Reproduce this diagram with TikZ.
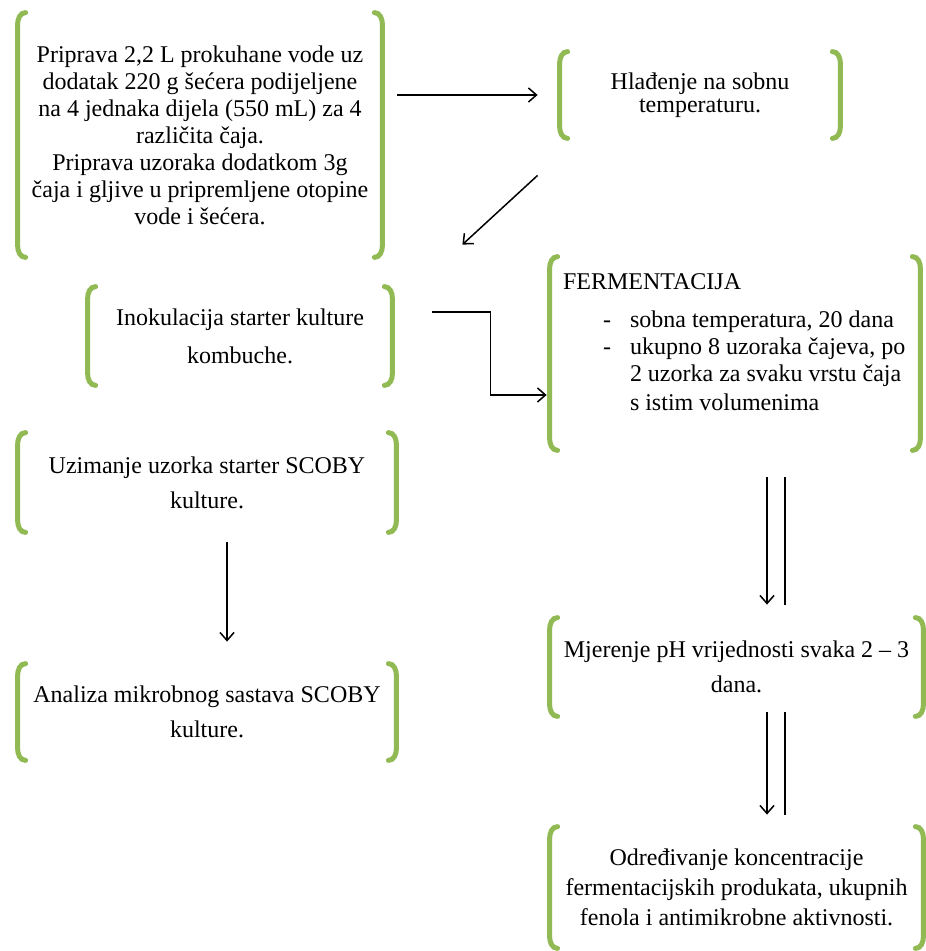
\documentclass[tikz,border=0pt]{standalone}
\usepackage{fontspec}
\setmainfont{Liberation Serif}
\usetikzlibrary{arrows.meta}
\definecolor{brgreen}{RGB}{146,186,84}
\tikzset{
  brbox/.style={inner sep=0pt, align=center, font=\fontsize{12}{17.5}\selectfont},
  brk/.style={draw=brgreen, line width=2.5pt, line cap=round},
  arr/.style={draw, line width=0.75pt, -{Straight Barb[length=4pt,width=7pt]}},
  twin/.style={draw, line width=0.75pt}
}
\begin{document}
\begin{tikzpicture}[x=0.5pt,y=-0.5pt]
\useasboundingbox (0,0) rectangle (925,951);

% left column
\node[brbox, minimum width=182pt, minimum height=122pt, font=\fontsize{12}{13.5}\selectfont] (prep) at (200,135)
  {Priprava 2,2 L prokuhane vode uz\\ dodatak 220 g šećera podijeljene\\ na 4 jednaka dijela (550 mL) za 4\\ različita čaja.\\ Priprava uzoraka dodatkom 3g\\ čaja i gljive u pripremljene otopine\\ vode i šećera.};
\node[brbox, minimum width=152pt, minimum height=49pt, font=\fontsize{12}{19}\selectfont] (inoc) at (240,336)
  {Inokulacija starter kulture\\ kombuche.};
\node[brbox, minimum width=189pt, minimum height=49.5pt] (take) at (207,482.5)
  {Uzimanje uzorka starter SCOBY\\ kulture.};
\node[brbox, minimum width=189pt, minimum height=48pt] (anal) at (207,712)
  {Analiza mikrobnog sastava SCOBY\\ kulture.};

% right column
\node[brbox, minimum width=140pt, minimum height=43pt, font=\fontsize{12}{11.5}\selectfont] (cool) at (700,95)
  {Hlađenje na sobnu\\ temperaturu.};
\node[brbox, minimum width=185pt, minimum height=96.5pt] (ferm) at (735,353.5) {};
\node[anchor=north west, inner sep=0pt, align=left, font=\fontsize{12}{13.5}\selectfont] (fermtxt)
  at ([xshift=6.5pt,yshift=-8.5pt]ferm.north west)
  {FERMENTACIJA\\[5.5pt]
   \hspace*{20pt}\makebox[13.5pt][l]{-}sobna temperatura, 20 dana\\
   \hspace*{20pt}\makebox[13.5pt][l]{-}ukupno 8 uzoraka čajeva, po\\
   \hspace*{33.5pt}2 uzorka za svaku vrstu čaja\\[1pt]
   \hspace*{33.5pt}s istim volumenima};
\node[brbox, minimum width=186.5pt, minimum height=49pt] (meas) at (736.5,667)
  {Mjerenje pH vrijednosti svaka 2 – 3\\ dana.};
\node[brbox, minimum width=186.5pt, minimum height=60.5pt, font=\fontsize{12}{15}\selectfont] (det) at (736.5,887.5)
  {Određivanje koncentracije\\ fermentacijskih produkata, ukupnih\\ fenola i antimikrobne aktivnosti.};

% green brackets round every box
\foreach \n in {prep,cool,inoc,ferm,take,anal,meas,det}{
  \draw[brk] ([xshift=4pt]\n.north west) to[out=180,in=90] ([yshift=-6pt]\n.north west)
    -- ([yshift=6pt]\n.south west) to[out=-90,in=180] ([xshift=4pt]\n.south west);
  \draw[brk] ([xshift=-4pt]\n.north east) to[out=0,in=90] ([yshift=-6pt]\n.north east)
    -- ([yshift=6pt]\n.south east) to[out=-90,in=0] ([xshift=-4pt]\n.south east);
}

% arrows
\draw[arr] ([xshift=7.5pt]prep.east |- cool.west) -- ([xshift=-11pt]cool.west);
\draw[arr] ([xshift=-11pt,yshift=-18.5pt]cool.south west) -- ([xshift=35pt,yshift=21pt]inoc.north east);
\draw[arr] ([xshift=20pt,yshift=12pt]inoc.east) -- ++(29pt,0) |- ([xshift=-1.5pt,yshift=-20.75pt]ferm.west);
\draw[arr] ([xshift=10pt,yshift=-5pt]take.south) -- ([xshift=10pt,yshift=11pt]anal.north);

% double lines
\draw[arr] ([xshift=16pt,yshift=-13.5pt]ferm.south) -- ([xshift=15.25pt,yshift=6.5pt]meas.north);
\draw[twin] ([xshift=25pt,yshift=-13.5pt]ferm.south) -- ([xshift=24.25pt,yshift=6.5pt]meas.north);
\draw[arr] ([xshift=15.25pt,yshift=2pt]meas.south) -- ([xshift=15.25pt,yshift=6pt]det.north);
\draw[twin] ([xshift=24.25pt,yshift=2pt]meas.south) -- ([xshift=24.25pt,yshift=6pt]det.north);
\end{tikzpicture}
\end{document}
